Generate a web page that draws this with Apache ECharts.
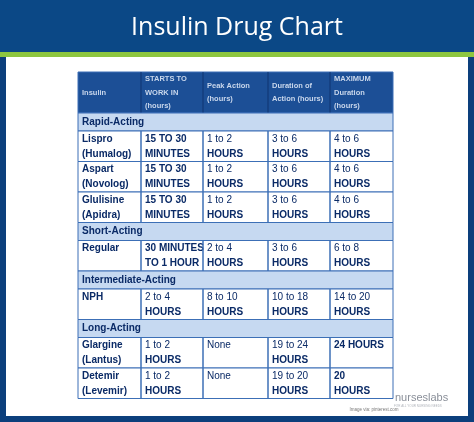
<!DOCTYPE html>
<html><head><meta charset="utf-8">
<script src="https://cdn.jsdelivr.net/npm/echarts@6/dist/echarts.min.js"></script>
<style>html,body{margin:0;padding:0;background:#fff}#c{width:474px;height:422px}</style>
</head><body><div id="c"></div>
<script>
var title = "Insulin Drug Chart";
var headers = [["Insulin"],["STARTS TO","WORK IN","(hours)"],["Peak Action","(hours)"],["Duration of","Action (hours)"],["MAXIMUM","Duration","(hours)"]];
var groups = ["Rapid-Acting","Short-Acting","Intermediate-Acting","Long-Acting"];
var rows = [
 [0,["Lispro","(Humalog)"],["15 TO 30","MINUTES"],["1 to 2","HOURS"],["3 to 6","HOURS"],["4 to 6","HOURS"]],
 [0,["Aspart","(Novolog)"],["15 TO 30","MINUTES"],["1 to 2","HOURS"],["3 to 6","HOURS"],["4 to 6","HOURS"]],
 [0,["Glulisine","(Apidra)"],["15 TO 30","MINUTES"],["1 to 2","HOURS"],["3 to 6","HOURS"],["4 to 6","HOURS"]],
 [1,["Regular"],["30 MINUTES","TO 1 HOUR"],["2 to 4","HOURS"],["3 to 6","HOURS"],["6 to 8","HOURS"]],
 [2,["NPH"],["2 to 4","HOURS"],["8 to 10","HOURS"],["10 to 18","HOURS"],["14 to 20","HOURS"]],
 [3,["Glargine","(Lantus)"],["1 to 2","HOURS"],["None"],["19 to 24","HOURS"],["24 HOURS"]],
 [3,["Detemir","(Levemir)"],["1 to 2","HOURS"],["None"],["19 to 20","HOURS"],["20","HOURS"]]
];
var colX = [78,141,203,268,330,393];
var navy = "#0a2a66", border = "#3c6fb6";
var g = [];
g.push({type:'rect',shape:{x:0,y:0,width:474,height:422},style:{fill:'#0c3f7c'}});
g.push({type:'rect',shape:{x:0,y:0,width:474,height:52},style:{fill:'#0b4886'}});
g.push({type:'rect',shape:{x:0,y:52,width:474,height:5},style:{fill:'#8dc63f'}});
g.push({type:'rect',shape:{x:6,y:57,width:462,height:359},style:{fill:'#ffffff'}});
g.push({type:'text',x:237,y:28,style:{text:title,fill:'#fff',font:'25px "Open Sans"',align:'center',verticalAlign:'middle'}});
var W = colX[5]-colX[0];
// header
g.push({type:'rect',shape:{x:78,y:72,width:W,height:41},style:{fill:'#1c4f96',stroke:border,lineWidth:1}});
for (var c=0;c<5;c++){
  var h=headers[c], n=h.length, y0 = 92.5 - (n-1)*13.5/2;
  h.forEach(function(t,i){g.push({type:'text',x:colX[c]+4,y:y0+i*13.5,style:{text:t,fill:'#c9d7ec',font:'bold 7.5px "Liberation Sans"',verticalAlign:'middle'}});});
  if(c>0) g.push({type:'line',shape:{x1:colX[c],y1:72,x2:colX[c],y2:113},style:{stroke:'#0e3570',lineWidth:1}});
}
var y = 113, lastG = -1;
function isBold(t,c){return c===0 || (t===t.toUpperCase());}
rows.forEach(function(r){
  if(r[0]!==lastG){
    lastG=r[0];
    g.push({type:'rect',shape:{x:78,y:y,width:W,height:18},style:{fill:'#c6d9f1',stroke:border,lineWidth:1}});
    g.push({type:'text',x:82,y:y+9,style:{text:groups[lastG],fill:navy,font:'bold 10px "Liberation Sans"',verticalAlign:'middle'}});
    y+=18;
  }
  var rh=30.5;
  g.push({type:'rect',shape:{x:78,y:y,width:W,height:rh},style:{fill:'#fff',stroke:border,lineWidth:1}});
  for(var c=0;c<5;c++){
    if(c>0) g.push({type:'line',shape:{x1:colX[c],y1:y,x2:colX[c],y2:y+rh},style:{stroke:border,lineWidth:1.5}});
    r[c+1].forEach(function(t,i){
      g.push({type:'text',x:colX[c]+4,y:y+8+i*15,style:{text:t,fill:navy,font:(isBold(t,c)?'bold ':'')+'10px "Liberation Sans"',verticalAlign:'middle'}});
    });
  }
  y+=rh;
});
g.push({type:'text',x:395,y:398,style:{text:'nurseslabs',fill:'#8a8f99',font:'11px "Liberation Sans"',verticalAlign:'middle'}});
g.push({type:'text',x:394,y:406,style:{text:'FOR ALL YOUR NURSING NEEDS',fill:'#b0b4bb',font:'3px "Liberation Sans"',verticalAlign:'middle'}});
g.push({type:'text',x:374,y:410,style:{text:'Image via: pinterest.com',fill:'#777',font:'4.5px "Liberation Sans"',align:'center',verticalAlign:'middle'}});
var chart = echarts.init(document.getElementById('c'));
chart.setOption({animation:false,graphic:g});
</script></body></html>
